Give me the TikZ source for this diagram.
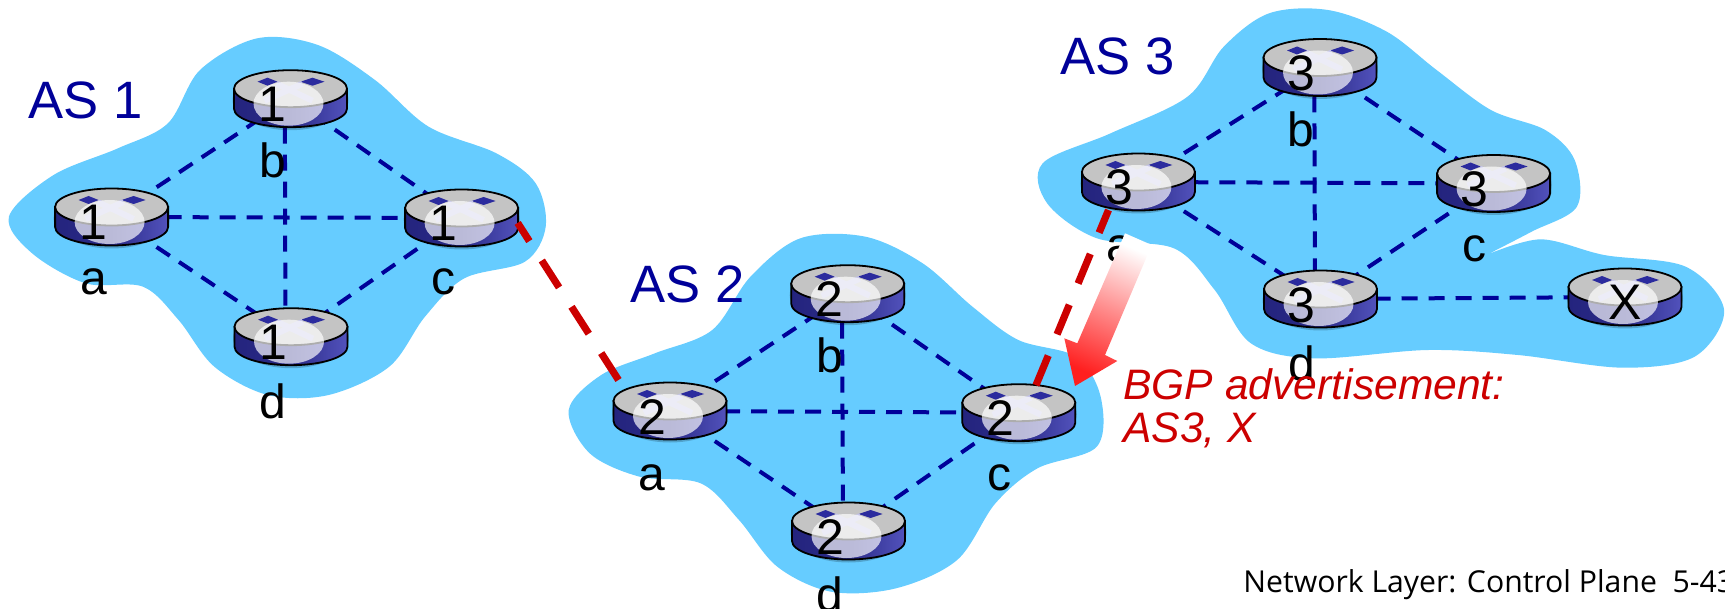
\documentclass[tikz,border=0pt]{standalone}
\usepackage{fontspec}
\setmainfont{Liberation Sans}
\newfontfamily\footfont{Open Sans}
\usetikzlibrary{shapes.geometric,calc}
\pgfdeclarelayer{blobs}
\pgfdeclarelayer{links}
\pgfsetlayers{blobs,links,main}
\definecolor{blobblue}{HTML}{66CCFF}
\definecolor{navy}{HTML}{000099}
\definecolor{redlink}{HTML}{CC0000}
\definecolor{topgrey}{HTML}{C4C4C4}
\definecolor{bodyL}{HTML}{24247E}
\definecolor{bodyR}{HTML}{5252BC}
\definecolor{diam}{HTML}{2B2B9E}
\definecolor{pale}{HTML}{C4C4E8}
\tikzset{
  routerbox/.style={ellipse,minimum width=56.5pt,minimum height=28.5pt,inner sep=0pt},
  routernum/.style={anchor=base,inner sep=0pt,font=\fontsize{25}{25}\selectfont},
  devlabel/.style={anchor=base,inner sep=0pt,font=\fontsize{24}{24}\selectfont},
  aslabel/.style={anchor=base west,inner sep=0pt,text=navy,font=\fontsize{26.3}{27}\selectfont},
  innerlink/.style={draw=navy,line width=2pt,dash pattern=on 8pt off 5.5pt},
  interlink/.style={draw=redlink,line width=3.6pt,dash pattern=on 16pt off 11.5pt},
  blob/.style={fill=blobblue,draw=none},
}
% name, x, y, text, text offset
\newcommand\routerat[5]{%
  \node[routerbox] (#1) at (#2,#3) {};
  \begin{scope}[shift={(#1.center)}]
    \fill[black,opacity=.2] (0,1.5) ellipse [x radius=29pt,y radius=15pt];
    \shade[left color=bodyL,right color=bodyR,middle color=bodyL!85!bodyR,draw=black,line width=.9pt]
      (-56.5,-10) -- (-56.5,10) .. controls (-56.5,20.2) and (-31.2,28.5) .. (0,28.5)
      .. controls (31.2,28.5) and (56.5,20.2) .. (56.5,10) -- (56.5,-10) -- cycle;
    \fill[topgrey,draw=black,line width=.9pt] (0,-10) ellipse [x radius=28.25pt,y radius=9.25pt];
    \fill[diam] (-33,-17) -- (-23,-21) -- (-13,-17) -- (-23,-13) -- cycle;
    \fill[diam] (10,-17) -- (22,-21) -- (34,-17) -- (22,-13) -- cycle;
    \draw[pale,line width=3pt] (-14,-15) -- (22,2);
    \draw[pale,line width=3pt] (12,-15) -- (-26,2);
    \fill[white,opacity=.68] (-2,5) ellipse [x radius=17.5pt,y radius=11pt];
  \end{scope}
  \node[routernum] (#1n) at ($(#1.center)+(#5,23)$) {#4};
}
\begin{document}
\begin{tikzpicture}[x=.5pt,y=-.5pt]
\useasboundingbox (0,0) rectangle (1725,609);
\begin{pgfonlayer}{blobs}
\begin{scope}[shift={(0,20)},x=.17857pt,y=-.16667pt]
\fill[blob] plot[smooth cycle,tension=.55] coordinates {(25,590) (150,465) (330,385) (470,310) (560,150) (720,55) (890,75) (1050,180) (1200,320) (1390,400) (1500,490) (1528,620) (1470,725) (1300,775) (1190,890) (1090,1040) (920,1125) (750,1125) (600,1040) (500,900) (400,800) (240,790) (90,700)};
\end{scope}
\begin{scope}[shift={(540,220)},x=.19135pt,y=-.16667pt]
\fill[blob] plot[smooth cycle,tension=.55] coordinates {(75,570) (160,465) (300,400) (450,330) (550,170) (680,55) (850,50) (1000,130) (1130,260) (1250,360) (1400,410) (1465,530) (1455,680) (1300,745) (1190,850) (1090,1020) (930,1105) (760,1115) (620,1040) (520,900) (420,790) (260,770) (130,700)};
\end{scope}
\begin{scope}[shift={(1020,0)},x=.2264pt,y=-.16667pt]
\fill[blob] plot[smooth,tension=.55] coordinates {(1030,765) (1150,718) (1290,765) (1470,800) (1555,930) (1490,1070) (1330,1103) (1100,1065) (900,1050) (650,1075) (510,1030) (430,870) (340,745) (170,715) (60,610) (50,490) (200,400) (370,290) (450,140) (550,40) (680,30) (810,95) (920,210) (1040,330) (1160,390) (1225,480) (1230,620) (1130,695) (1030,765)} -- cycle;
\end{scope}
\end{pgfonlayer}
% routers
\routerat{a1}{111.6}{217}{1}{-18}
\routerat{b1}{290.5}{98.7}{1}{-18}
\routerat{c1}{461.6}{218}{1}{-18}
\routerat{d1}{291}{336.7}{1}{-18}
\routerat{a2}{670}{411}{2}{-18}
\routerat{b2}{847.7}{293.7}{2}{-18}
\routerat{c2}{1018.8}{412.7}{2}{-18}
\routerat{d2}{848.5}{531}{2}{-18}
\routerat{a3}{1138.4}{182}{3}{-19}
\routerat{b3}{1320}{67.5}{3}{-19}
\routerat{c3}{1493.6}{183.5}{3}{-19}
\routerat{d3}{1320.5}{299}{3}{-19}
\routerat{x3}{1625}{297}{X}{0}
% internal links
\begin{pgfonlayer}{links}
\foreach \s in {1,2,3}{
  \draw[innerlink] (a\s.center) -- (b\s.center);
  \draw[innerlink] (a\s.center) -- (c\s.center);
  \draw[innerlink] (a\s.center) -- (d\s.center);
  \draw[innerlink] (b\s.center) -- (c\s.center);
  \draw[innerlink] (c\s.center) -- (d\s.center);
  \draw[innerlink] ([xshift=-2.8pt]b\s.south) -- ([xshift=-2.8pt]d\s.north);
}
\draw[innerlink] (d3.center) -- (x3.center);
\end{pgfonlayer}
% device labels
\node[devlabel] (la1) at (93.6,295) {a};
\node[devlabel] (lb1) at (273,178) {b};
\node[devlabel] (lc1) at (443,295) {c};
\node[devlabel] (ld1) at (273,418) {d};
\node[devlabel] (la2) at (652,490) {a};
\node[devlabel] (lb2) at (829.7,372.7) {b};
\node[devlabel] (lc2) at (999,490.7) {c};
\node[devlabel] (ld2) at (830,611) {d};
\node[devlabel] (la3) at (1120,262) {a};
\node[devlabel] (lb3) at (1300.7,146.7) {b};
\node[devlabel] (lc3) at (1474,262) {c};
\node[devlabel] (ld3) at (1301.6,380) {d};
% AS labels
\node[aslabel] (as1) at (28,119) {AS 1};
\node[aslabel] (as2) at (630,303) {AS 2};
\node[aslabel] (as3) at (1060,75) {AS 3};
% inter-AS links
\coordinate (enda2) at (618.5,380);
\coordinate (enda3) at (1108.5,210);
\draw[interlink] (enda2) -- (c1.-5);
\draw[interlink] (c2.58) -- (enda3);
% advertisement arrow
\shade[top color=white,bottom color=red!88!white,middle color=red!45!white,shading angle=-23]
  (1125,233.3) -- (1151.7,245) -- (1105,355) -- (1117.3,361) -- (1075,386) -- (1064.3,338.3) -- (1077.3,343.3) -- cycle;
\node[anchor=base west,inner sep=0pt,align=left,text=redlink,font=\fontsize{21.3}{21.5}\selectfont\itshape] (adv) at (1123,443) {BGP advertisement:\\AS3, X};
\node[anchor=base west,inner sep=0pt,font=\footfont\fontsize{15.1}{16}\selectfont] (foot) at (1243,592.7) {Network Layer: Control Plane\ \ 5-43};
\end{tikzpicture}
\end{document}
